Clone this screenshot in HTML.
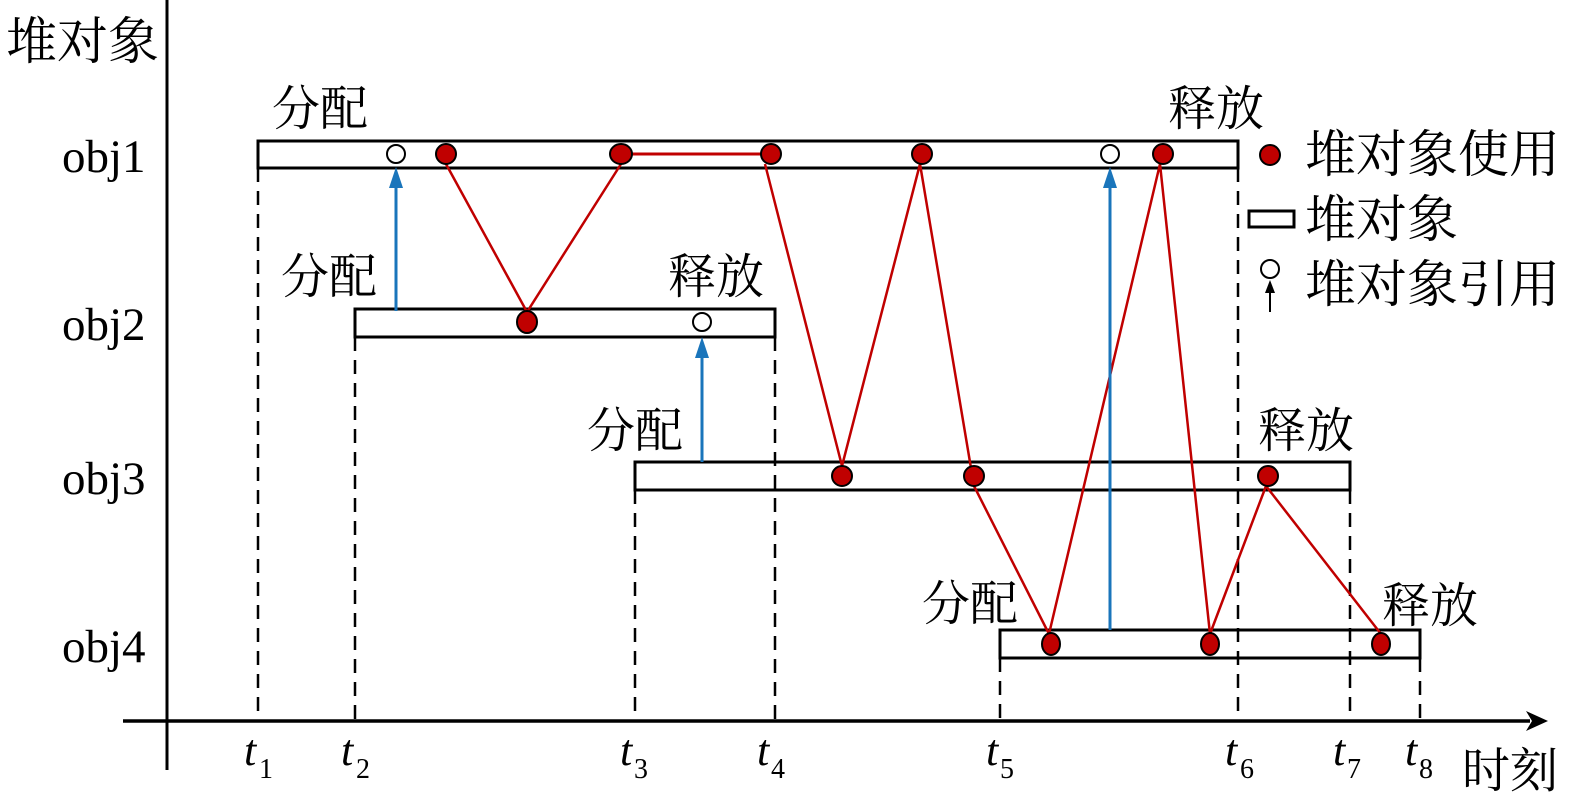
<!DOCTYPE html>
<html><head><meta charset="utf-8"><style>
html,body{margin:0;padding:0;background:#fff;}
svg{display:block;}
.cj{font-family:"Noto Serif CJK SC","Liberation Serif",serif;font-size:48px;fill:#000;}
.ob{font-family:"Liberation Serif",serif;font-size:47px;fill:#000;}
.t{font-family:"Liberation Serif",serif;font-style:italic;font-size:44px;}
.s{font-family:"Liberation Serif",serif;font-size:28px;}
</style></head><body>
<svg width="1575" height="797" viewBox="0 0 1575 797" xmlns="http://www.w3.org/2000/svg">
<!-- axes -->
<line x1="167" y1="0" x2="167" y2="770" stroke="#000" stroke-width="3"/>
<line x1="123" y1="721" x2="1530" y2="721" stroke="#000" stroke-width="3.5"/>
<polygon points="1548,721 1526,711 1532,721 1526,731" fill="#000"/>
<!-- dashed verticals -->
<g stroke="#000" stroke-width="2.5" stroke-dasharray="14,9">
<line x1="258" y1="168" x2="258" y2="721"/>
<line x1="355" y1="337" x2="355" y2="721"/>
<line x1="635" y1="490" x2="635" y2="721"/>
<line x1="775" y1="337" x2="775" y2="721"/>
<line x1="1000" y1="658" x2="1000" y2="721"/>
<line x1="1238" y1="168" x2="1238" y2="721"/>
<line x1="1350" y1="490" x2="1350" y2="721"/>
<line x1="1420" y1="658" x2="1420" y2="721"/>
</g>
<!-- rects -->
<g fill="none" stroke="#000" stroke-width="3">
<rect x="258" y="141" width="980" height="27"/>
<rect x="355" y="309" width="420" height="28"/>
<rect x="635" y="462" width="715" height="28"/>
<rect x="1000" y="630" width="420" height="28"/>
</g>
<!-- red lines -->
<polyline fill="none" stroke="#c00000" stroke-width="2.5" points="446,164 527,312 621,164"/>
<line x1="621" y1="154" x2="771" y2="154" stroke="#c00000" stroke-width="3"/>
<polyline fill="none" stroke="#c00000" stroke-width="2.5" points="765,164 842,466 920,164 974,486 1049,634 1160,164 1210,634 1266,486 1381,634"/>
<!-- blue arrows -->
<g stroke="#1a75bb" stroke-width="3">
<line x1="396" y1="311" x2="396" y2="185"/>
<line x1="702" y1="462" x2="702" y2="354"/>
<line x1="1110" y1="630" x2="1110" y2="185"/>
</g>
<g fill="#1a75bb">
<polygon points="396,167 389,188 403,188"/>
<polygon points="702,337 695,358 709,358"/>
<polygon points="1110,167 1103,188 1117,188"/>
</g>
<!-- dots -->
<g fill="#c00000" stroke="#000" stroke-width="2">
<ellipse cx="446" cy="154" rx="10" ry="10"/>
<ellipse cx="621" cy="154" rx="11" ry="10"/>
<ellipse cx="771" cy="154" rx="10" ry="10"/>
<ellipse cx="922" cy="154" rx="10" ry="10"/>
<ellipse cx="1163" cy="154" rx="10" ry="10"/>
<ellipse cx="527" cy="322" rx="10" ry="11"/>
<ellipse cx="842" cy="476" rx="10" ry="10"/>
<ellipse cx="974" cy="476" rx="10" ry="10"/>
<ellipse cx="1268" cy="476" rx="10" ry="10"/>
<ellipse cx="1051" cy="644" rx="9" ry="11"/>
<ellipse cx="1210" cy="644" rx="9" ry="11"/>
<ellipse cx="1381" cy="644" rx="9" ry="11"/>
<ellipse cx="1270" cy="155" rx="10" ry="10"/>
</g>
<g fill="#fff" stroke="#000" stroke-width="2">
<ellipse cx="396" cy="154" rx="9" ry="9"/>
<ellipse cx="1110" cy="154" rx="9" ry="9"/>
<ellipse cx="702" cy="322" rx="9" ry="9"/>
<ellipse cx="1270" cy="269" rx="9" ry="9"/>
</g>
<!-- legend -->
<rect x="1249" y="211" width="45" height="16" fill="none" stroke="#000" stroke-width="3"/>
<line x1="1270" y1="312" x2="1270" y2="290" stroke="#000" stroke-width="2"/>
<polygon points="1270,280 1265,293 1275,293" fill="#000"/>
<text class="cj" x="1305" y="172" style="font-size:51px">堆对象使用</text>
<text class="cj" x="1305" y="237" style="font-size:51px">堆对象</text>
<text class="cj" x="1305" y="302" style="font-size:51px">堆对象引用</text>
<!-- labels -->
<text class="cj" x="6" y="59" style="font-size:51px">堆对象</text>
<text class="cj" x="272" y="125">分配</text>
<text class="cj" x="1168" y="125">释放</text>
<text class="cj" x="281" y="293">分配</text>
<text class="cj" x="668" y="293">释放</text>
<text class="cj" x="587" y="447">分配</text>
<text class="cj" x="1258" y="447">释放</text>
<text class="cj" x="922" y="620">分配</text>
<text class="cj" x="1382" y="622">释放</text>
<text class="cj" x="1462" y="787">时刻</text>
<text class="ob" x="62" y="172">obj1</text>
<text class="ob" x="62" y="340">obj2</text>
<text class="ob" x="62" y="494">obj3</text>
<text class="ob" x="62" y="662">obj4</text>
<!-- t labels -->
<g>
<text class="t" x="244" y="765">t</text><text class="s" x="259" y="778">1</text>
<text class="t" x="341" y="765">t</text><text class="s" x="356" y="778">2</text>
<text class="t" x="620" y="765">t</text><text class="s" x="634" y="778">3</text>
<text class="t" x="757" y="765">t</text><text class="s" x="771" y="778">4</text>
<text class="t" x="986" y="765">t</text><text class="s" x="1000" y="778">5</text>
<text class="t" x="1225" y="765">t</text><text class="s" x="1240" y="778">6</text>
<text class="t" x="1333" y="765">t</text><text class="s" x="1347" y="778">7</text>
<text class="t" x="1405" y="765">t</text><text class="s" x="1419" y="778">8</text>
</g>
</svg>
</body></html>
